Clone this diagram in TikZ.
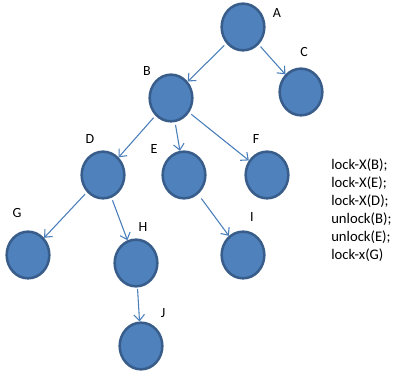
\documentclass[tikz,border=0pt]{standalone}
\usepackage{fontspec}
\setmainfont{Carlito}
\usetikzlibrary{shapes.geometric,arrows.meta}
\definecolor{nodefill}{HTML}{4F81BD}
\definecolor{nodeedge}{HTML}{385D8A}
\definecolor{edgecol}{HTML}{4A7EBB}
\tikzset{
  tnode/.style={ellipse,draw=nodeedge,fill=nodefill,line width=1.9pt,minimum width=32pt,minimum height=35pt,inner sep=0pt},
  tlabel/.style={inner sep=0pt,font=\fontsize{10.5}{12}\selectfont},
  tedge/.style={draw=edgecol,line width=0.8pt,-{Straight Barb[length=4.5pt,width=8pt]}},
  lockline/.style={anchor=base west,inner sep=0pt,font=\fontsize{11}{13}\selectfont}
}
\begin{document}
\begin{tikzpicture}[x=0.75pt,y=-0.75pt]
\useasboundingbox (0,0) rectangle (407,377);
\node[tnode] (A) at (243,27) {};
\node[tnode] (B) at (171,98) {};
\node[tnode] (C) at (301,92) {};
\node[tnode] (D) at (103,175) {};
\node[tnode] (E) at (184,175) {};
\node[tnode] (F) at (267,175) {};
\node[tnode] (G) at (28,255) {};
\node[tnode] (H) at (136,263) {};
\node[tnode] (I) at (243,255) {};
\node[tnode] (J) at (141,346) {};
\node[tlabel] (lA) at (277,13) {A};
\node[tlabel] (lB) at (147,71) {B};
\node[tlabel] (lC) at (304,52) {C};
\node[tlabel] (lD) at (90,139) {D};
\node[tlabel] (lE) at (154,149) {E};
\node[tlabel] (lF) at (256,139) {F};
\node[tlabel] (lG) at (17,213) {G};
\node[tlabel] (lH) at (143,227) {H};
\node[tlabel] (lI) at (252,217) {I};
\node[tlabel] (lJ) at (163,313) {J};
\draw[tedge,shorten <=2pt] (A) -- (B);
\draw[tedge,shorten <=2pt] (A) -- (C);
\draw[tedge,shorten <=2pt] (B) -- (D);
\draw[tedge,shorten <=2pt] (B) -- (E);
\draw[tedge,shorten <=2pt] (B) -- (F);
\draw[tedge,shorten <=2pt] (D) -- (G);
\draw[tedge,shorten <=2pt] (D) -- (H);
\draw[tedge,shorten <=4pt] (E) -- (I);
\draw[tedge,shorten <=1pt] (H) -- (J);
\node[lockline] (t1) at (331,170) {lock-X(B);};
\node[lockline] (t2) at (331,188) {lock-X(E);};
\node[lockline] (t3) at (331,206) {lock-X(D);};
\node[lockline] (t4) at (331,224) {unlock(B);};
\node[lockline] (t5) at (331,242) {unlock(E);};
\node[lockline] (t6) at (331,260) {lock-x(G)};
\end{tikzpicture}
\end{document}
